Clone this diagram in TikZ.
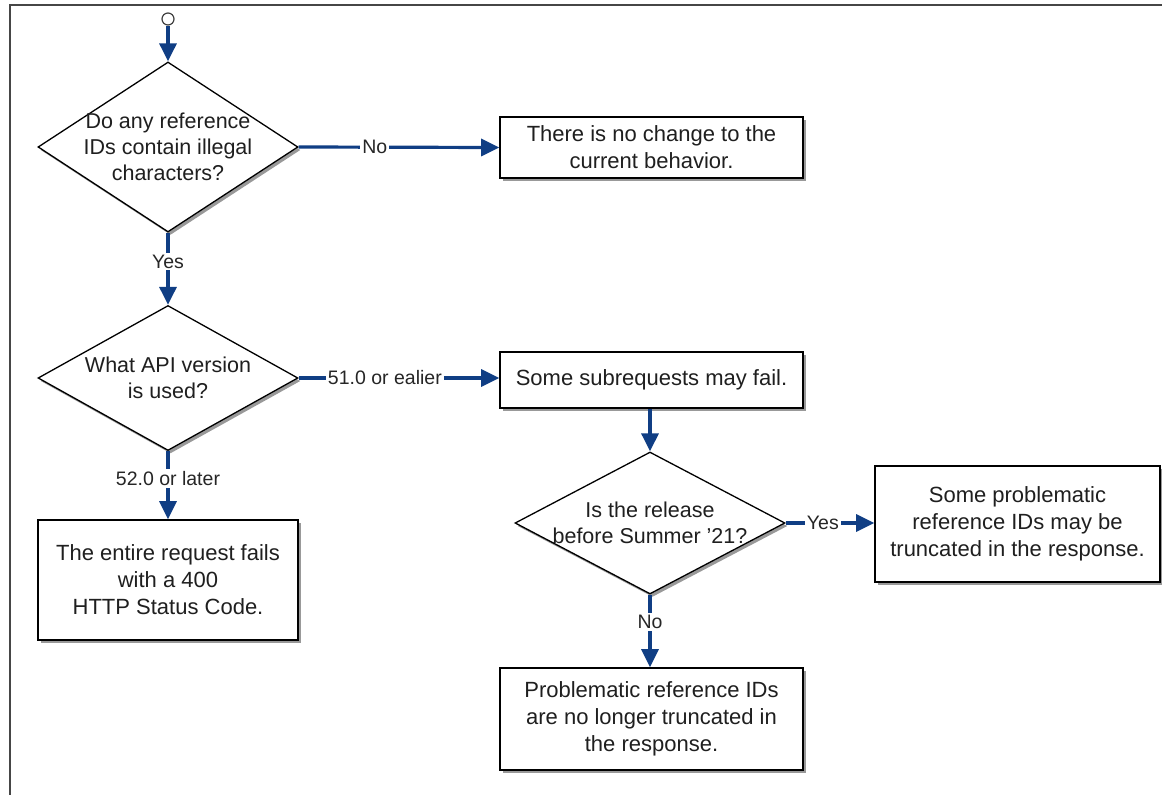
\documentclass[tikz,border=0pt]{standalone}
\usepackage{fontspec}
\setmainfont{Liberation Sans}
\usetikzlibrary{shapes.geometric,arrows.meta,shadows}
\definecolor{flowblue}{RGB}{16,62,132}
\definecolor{framegray}{RGB}{70,70,70}
\tikzset{
  boxnode/.style={draw=black, line width=1.6pt, fill=white, align=center, text=black!88,
    font=\fontsize{22}{27}\selectfont, inner sep=2pt,
    drop shadow={shadow xshift=2.5pt, shadow yshift=-3pt, opacity=0.4, fill=black}},
  decnode/.style={diamond, draw=black, line width=1.3pt, fill=white, inner sep=0pt,
    drop shadow={shadow xshift=2.5pt, shadow yshift=-3pt, opacity=0.4, fill=black}},
  dectext/.style={align=center, font=\fontsize{21.5}{26}\selectfont, inner sep=0pt, text=black!88},
  flow/.style={draw=flowblue, line width=3.2pt, -{Triangle[length=18pt,width=17pt]}},
  lbl/.style={fill=white, font=\fontsize{19.5}{21}\selectfont, inner sep=2pt, text=black!85, pos=0.4}
}
\begin{document}
\begin{tikzpicture}[x=1pt,y=-1pt]
\useasboundingbox (0,0) rectangle (1162,795);
\draw[framegray, line width=2pt] (10,795) -- (10,5) -- (1162,5);

\node[circle, draw=black!75, line width=1.2pt, minimum size=12pt, inner sep=0pt, fill=white] (start) at (168,19) {};

\node[decnode, minimum width=260pt, minimum height=170pt] (d1) at (168,147) {};
\node[dectext] (d1t) at (168,147) {Do any reference\\IDs contain illegal\\characters?};

\node[boxnode, minimum width=303pt, minimum height=61pt] (b1) at (651.5,147.5) {There is no change to the\\current behavior.};

\node[decnode, minimum width=260pt, minimum height=145pt] (d2) at (168,378) {};
\node[dectext] (d2t) at (168,378) {What API version\\is used?};

\node[boxnode, minimum width=303pt, minimum height=56pt] (b2) at (651.5,380) {Some subrequests may fail.};

\node[boxnode, minimum width=260pt, minimum height=120pt] (b3) at (168,580) {The entire request fails\\with a 400\\HTTP Status Code.};

\node[decnode, minimum width=270pt, minimum height=142pt] (d3) at (650,523) {};
\node[dectext] (d3t) at (650,523) {Is the release\\before Summer '21?};

\node[boxnode, minimum width=285pt, minimum height=116pt] (b4) at (1017.5,524) {Some problematic\\reference IDs may be\\truncated in the response.};

\node[boxnode, minimum width=303pt, minimum height=102pt] (b5) at (651.5,719) {Problematic reference IDs\\are no longer truncated in\\the response.};

\draw[flow] (start) -- (d1.north);
\draw[flow] (d1.east) -- node[lbl, pos=0.38] {No} (b1.west);
\draw[flow] (d1.south) -- node[lbl] {Yes} (d2.north);
\draw[flow] (d2.east) -- node[lbl, pos=0.43] {51.0 or ealier} (b2.west |- d2.east);
\draw[flow] (d2.south) -- node[lbl] {52.0 or later} (b3.north);
\draw[flow] (b2.south -| d3.north) -- (d3.north);
\draw[flow] (d3.east) -- node[lbl, pos=0.42] {Yes} (b4.west |- d3.east);
\draw[flow] (d3.south) -- node[lbl, pos=0.38] {No} (b5.north -| d3.south);
\end{tikzpicture}
\end{document}
